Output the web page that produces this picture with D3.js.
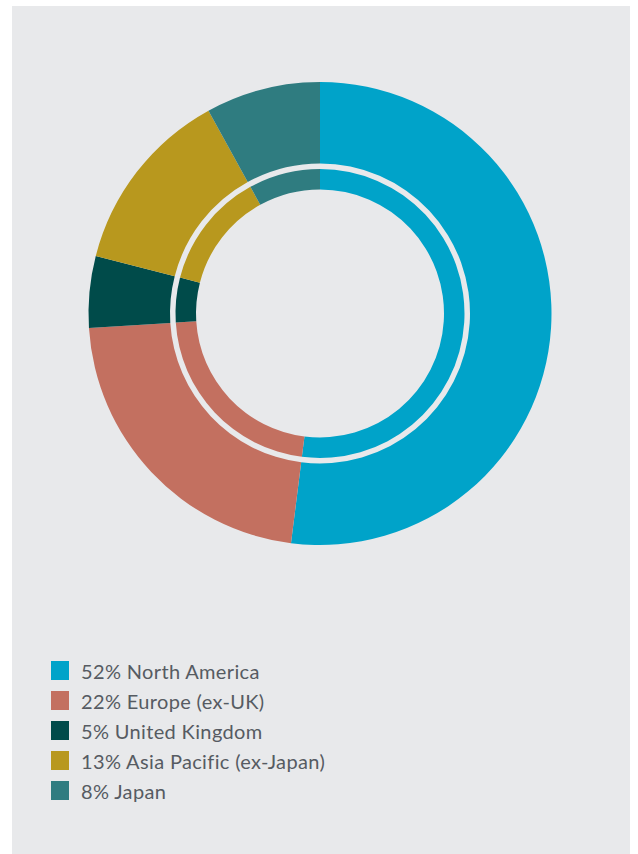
<!DOCTYPE html>
<html><head><meta charset="utf-8">
<script src="https://cdn.jsdelivr.net/npm/d3@7"></script>
<style>html,body{margin:0;padding:0;background:#fff;}</style>
</head><body>
<script>
const categories = ["North America","Europe (ex-UK)","United Kingdom","Asia Pacific (ex-Japan)","Japan"];
const values = [52,22,5,13,8];
const colors = ["#00a3c9","#c37060","#004b4a","#b8981e","#2f7c80"];

const W = 638, H = 854;
const svg = d3.select("body").append("svg").attr("width", W).attr("height", H);
const bg = "#e8e9eb";
svg.append("rect").attr("x",12).attr("y",6).attr("width",618).attr("height",H-6).attr("fill",bg);

const cx = 320, cy = 313.5;
const pie = d3.pie().sort(null).value(d=>d.v);
const data = pie(categories.map((c,i)=>({c, v:values[i], col:colors[i]})));
const g = svg.append("g").attr("transform",`translate(${cx},${cy})`);
const outer = d3.arc().innerRadius(150).outerRadius(231.5);
const inner = d3.arc().innerRadius(124).outerRadius(144.5);
g.selectAll("path.o").data(data).join("path").attr("class","o").attr("d",outer).attr("fill",d=>d.data.col);
g.selectAll("path.i").data(data).join("path").attr("class","i").attr("d",inner).attr("fill",d=>d.data.col);

const lg = svg.append("g");
const rowY = d3.scaleLinear().domain([0,1]).range([661,691]);
categories.forEach((c,i)=>{
  const y = rowY(i);
  lg.append("rect").attr("x",51).attr("y",y).attr("width",18).attr("height",19).attr("fill",colors[i]);
  lg.append("text").attr("x",81).attr("y",y+17.5).attr("font-family","Lato, sans-serif").attr("font-size",20)
    .attr("letter-spacing",0.35).attr("fill","#565b62").text(values[i]+"% "+c);
});
</script>
</body></html>
